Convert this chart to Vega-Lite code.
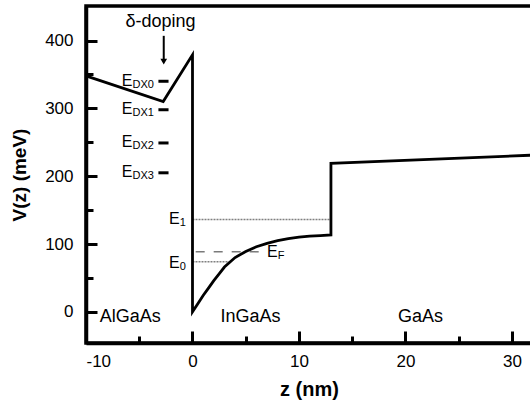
{
  "$schema": "https://vega.github.io/schema/vega-lite/v6.json",
  "width": 446,
  "height": 337,
  "autosize": {"type": "none"},
  "padding": {"left": 86, "top": 6, "right": -2, "bottom": 57},
  "background": "white",
  "config": {
    "view": {"stroke": "black", "strokeWidth": 3.5},
    "font": "Liberation Sans",
    "axis": {
      "grid": false,
      "domainColor": "black",
      "domainWidth": 3.5,
      "ticks": true,
      "tickColor": "black",
      "tickWidth": 3,
      "tickOpacity": 1,
      "labelColor": "black",
      "labelFont": "Liberation Sans",
      "labelFontSize": 17,
      "titleFont": "Liberation Sans",
      "titleFontSize": 20,
      "titleFontWeight": "bold",
      "titleColor": "black"
    },
    "axisX": {"tickSize": -12, "labelPadding": 22, "titlePadding": 10},
    "axisY": {"tickSize": -11, "labelPadding": 24, "titlePadding": 15, "titleFontSize": 19}
  },
  "datasets": {
    "profile": [
      {"i": 1, "z": -10, "V": 348},
      {"i": 2, "z": -2.75, "V": 310},
      {"i": 3, "z": 0, "V": 379},
      {"i": 4, "z": 0, "V": 0},
      {"i": 5, "z": 0.5, "V": 12},
      {"i": 6, "z": 1, "V": 24},
      {"i": 7, "z": 1.5, "V": 35},
      {"i": 8, "z": 2, "V": 46},
      {"i": 9, "z": 2.5, "V": 56},
      {"i": 10, "z": 3, "V": 66},
      {"i": 11, "z": 3.5, "V": 73},
      {"i": 12, "z": 4, "V": 80},
      {"i": 13, "z": 5, "V": 89},
      {"i": 14, "z": 6, "V": 96},
      {"i": 15, "z": 7, "V": 101},
      {"i": 16, "z": 8, "V": 105},
      {"i": 17, "z": 9, "V": 108},
      {"i": 18, "z": 10, "V": 110},
      {"i": 19, "z": 11, "V": 111.5},
      {"i": 20, "z": 12, "V": 112.5},
      {"i": 21, "z": 13, "V": 113.5},
      {"i": 22, "z": 13, "V": 219},
      {"i": 23, "z": 31.9, "V": 231}
    ],
    "levels": [
      {"name": "E1", "z": 0, "z2": 13, "V": 136},
      {"name": "E0", "z": 0, "z2": 3.4, "V": 74}
    ],
    "fermi": [
      {"name": "EF", "z": 0.3, "z2": 6.7, "V": 88.5}
    ],
    "dx": [
      {"name": "DX0", "z": -3.2, "z2": -2.25, "V": 340},
      {"name": "DX1", "z": -3.2, "z2": -2.25, "V": 298},
      {"name": "DX2", "z": -3.2, "z2": -2.25, "V": 249},
      {"name": "DX3", "z": -3.2, "z2": -2.25, "V": 205}
    ],
    "elabels": [
      {"z": -5.63, "V": 341, "main": "E", "sub": "DX0"},
      {"z": -5.63, "V": 299, "main": "E", "sub": "DX1"},
      {"z": -5.63, "V": 250, "main": "E", "sub": "DX2"},
      {"z": -5.63, "V": 206, "main": "E", "sub": "DX3"},
      {"z": -1.2, "V": 137, "main": "E", "sub": "1"},
      {"z": -1.2, "V": 72, "main": "E", "sub": "0"},
      {"z": 8.0, "V": 88.5, "main": "E", "sub": "F"}
    ],
    "regions": [
      {"z": -5.85, "V": -7, "t": "AlGaAs"},
      {"z": 5.45, "V": -7, "t": "InGaAs"},
      {"z": 21.4, "V": -7, "t": "GaAs"}
    ],
    "dopingLabel": [
      {"z": -3.0, "V": 428, "t": "δ-doping"}
    ],
    "arrow": [
      {"z": -2.7, "V": 407, "V2": 369}
    ],
    "arrowhead": [
      {"z": -2.7, "V": 369}
    ]
  },
  "encoding": {
    "x": {
      "field": "z",
      "type": "quantitative",
      "scale": {"domain": [-10, 31.88], "nice": false, "zero": false},
      "axis": {
        "title": "z (nm)",
        "values": [-10, -5, 0, 5, 10, 15, 20, 25, 30],
        "labelExpr": "datum.value % 10 === 0 ? replace(datum.label, '−', '-') : ''",
        "tickDash": {"condition": {"test": "datum.value % 10 === 0", "value": [30, 1]}, "value": [7, 30]}
      }
    },
    "y": {
      "field": "V",
      "type": "quantitative",
      "scale": {"domain": [-46, 451], "nice": false, "zero": false},
      "axis": {
        "title": "V(z) (meV)",
        "values": [0, 50, 100, 150, 200, 250, 300, 350, 400],
        "labelExpr": "datum.value % 100 === 0 ? datum.label : ''",
        "tickDash": {"condition": {"test": "datum.value % 100 === 0", "value": [30, 1]}, "value": [7, 30]}
      }
    }
  },
  "layer": [
    {
      "data": {"name": "levels"},
      "mark": {"type": "rule", "color": "#808080", "strokeWidth": 1.5, "strokeDash": [2, 1]},
      "encoding": {"x2": {"field": "z2"}}
    },
    {
      "data": {"name": "fermi"},
      "mark": {"type": "rule", "color": "#7a7a7a", "strokeWidth": 1.5, "strokeDash": [9, 9]},
      "encoding": {"x2": {"field": "z2"}}
    },
    {
      "data": {"name": "dx"},
      "mark": {"type": "rule", "color": "black", "strokeWidth": 3},
      "encoding": {"x2": {"field": "z2"}}
    },
    {
      "data": {"name": "profile"},
      "mark": {"type": "line", "color": "black", "strokeWidth": 2.8, "strokeJoin": "miter"},
      "encoding": {"order": {"field": "i", "type": "quantitative"}}
    },
    {
      "data": {"name": "elabels"},
      "mark": {"type": "text", "align": "right", "baseline": "middle", "fontSize": 16, "color": "black"},
      "encoding": {"text": {"field": "main"}}
    },
    {
      "data": {"name": "elabels"},
      "mark": {"type": "text", "align": "left", "baseline": "middle", "fontSize": 11, "dy": 4, "color": "black"},
      "encoding": {"text": {"field": "sub"}}
    },
    {
      "data": {"name": "regions"},
      "mark": {"type": "text", "align": "center", "baseline": "middle", "fontSize": 18, "color": "black"},
      "encoding": {"text": {"field": "t"}}
    },
    {
      "data": {"name": "dopingLabel"},
      "mark": {"type": "text", "align": "center", "baseline": "middle", "fontSize": 18, "color": "black"},
      "encoding": {"text": {"field": "t"}}
    },
    {
      "data": {"name": "arrow"},
      "mark": {"type": "rule", "color": "black", "strokeWidth": 2},
      "encoding": {"y2": {"field": "V2"}}
    },
    {
      "data": {"name": "arrowhead"},
      "mark": {"type": "point", "shape": "triangle-down", "filled": true, "color": "black", "size": 45, "opacity": 1},
      "encoding": {}
    }
  ]
}
